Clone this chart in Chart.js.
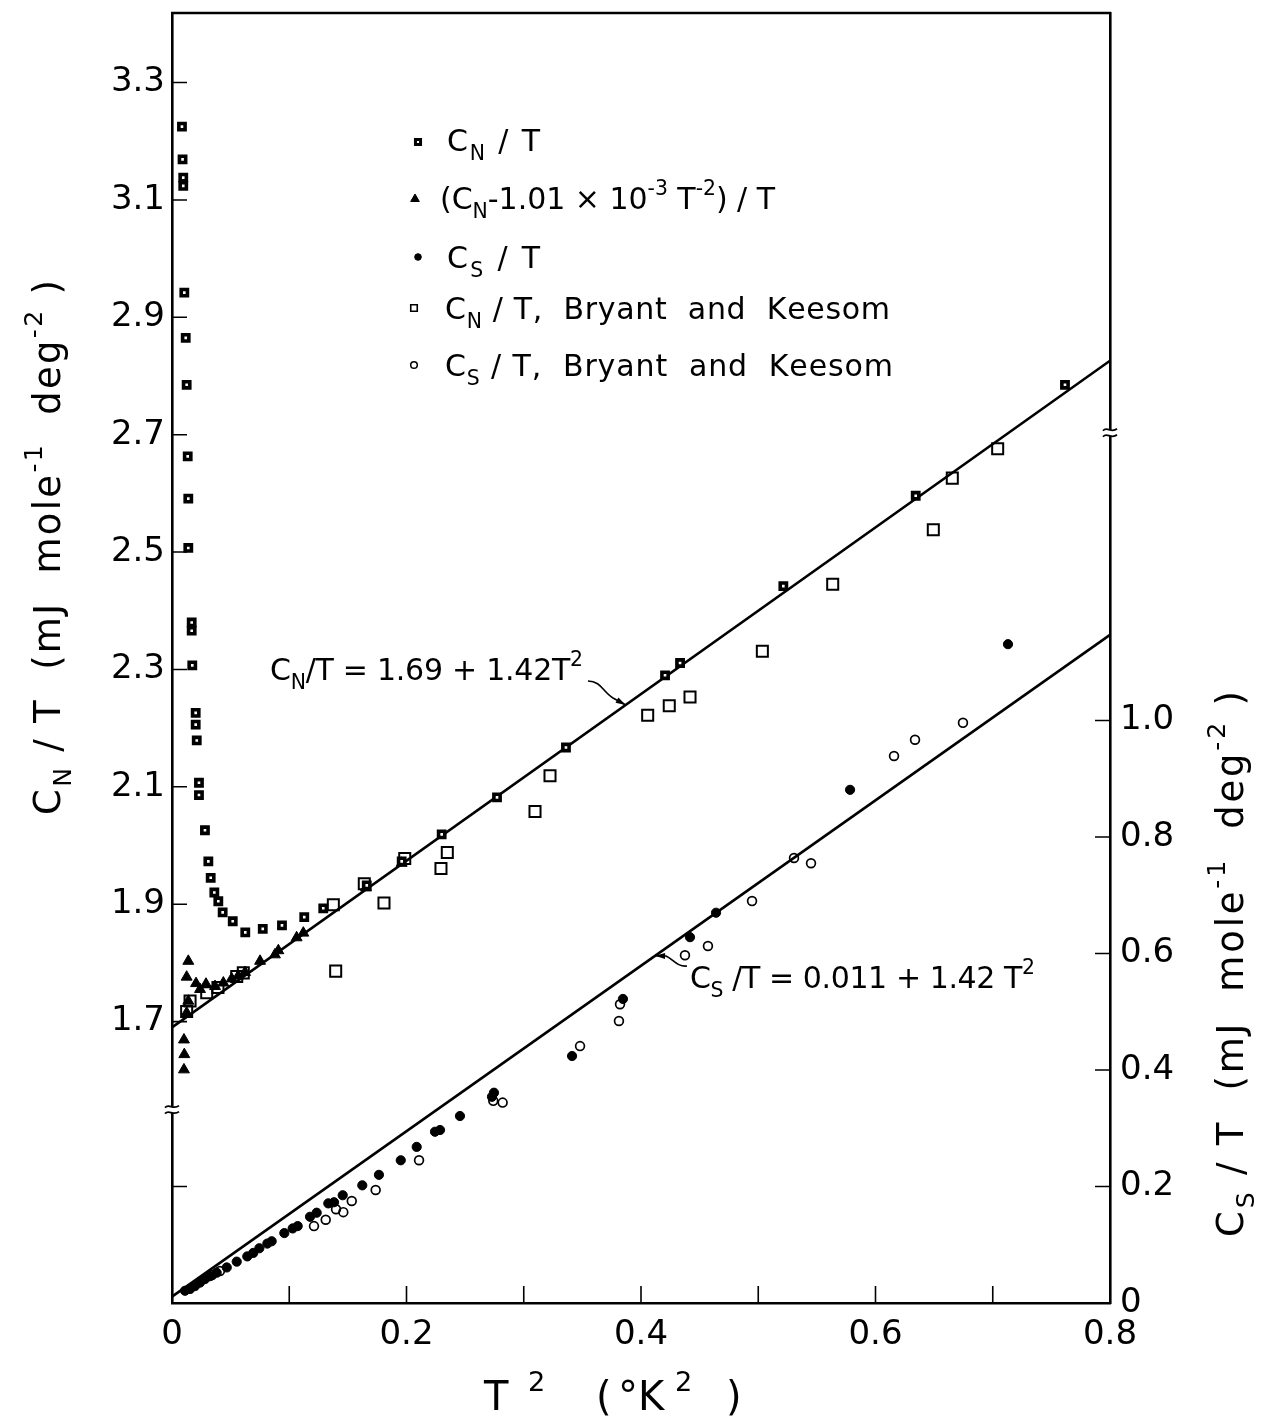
<!DOCTYPE html>
<html>
<head>
<meta charset="utf-8">
<script src="https://cdn.jsdelivr.net/npm/chart.js@4/dist/chart.umd.min.js"></script>
<style>
  html, body { margin: 0; padding: 0; background: #fff; }
  #wrap { width: 1267px; height: 1424px; position: relative; }
</style>
</head>
<body>
<div id="wrap"><canvas id="c" width="1267" height="1424"></canvas></div>
<script>
// ---- measured points: T^2 (K^2) and C/T (mJ mole^-1 deg^-2) ----
const cnT2 = [0.0085, 0.0090, 0.0096, 0.0096, 0.0105, 0.0117, 0.0125, 0.0134, 0.0139, 0.0139,
  0.0168, 0.0168, 0.0173, 0.0202, 0.0202, 0.0211, 0.0230, 0.0230, 0.0281, 0.0310,
  0.0330, 0.0361, 0.0395, 0.0432, 0.0518, 0.0625, 0.0774, 0.0938, 0.1128, 0.1290,
  0.1661, 0.1959, 0.2300, 0.2772, 0.3360, 0.4205, 0.4333, 0.5214, 0.6343, 0.7616];
const cnVal = [3.225, 3.169, 3.138, 3.124, 2.942, 2.865, 2.785, 2.663, 2.591, 2.507,
  2.380, 2.366, 2.307, 2.226, 2.206, 2.179, 2.107, 2.086, 2.026, 1.973,
  1.945, 1.920, 1.905, 1.886, 1.871, 1.852, 1.858, 1.864, 1.878, 1.893,
  1.932, 1.973, 2.019, 2.082, 2.167, 2.290, 2.311, 2.442, 2.596, 2.785];

const cnCorrT2 = [0.0102, 0.0105, 0.0102, 0.0125, 0.0139, 0.0125, 0.0139, 0.0205, 0.0239, 0.0290,
  0.0367, 0.0438, 0.0509, 0.0565, 0.0623, 0.0751, 0.0878, 0.0907, 0.1063, 0.1120, 0.1655, 0.1959];
const cnCorrVal = [1.618, 1.644, 1.669, 1.715, 1.735, 1.776, 1.803, 1.765, 1.755, 1.764,
  1.760, 1.766, 1.773, 1.778, 1.784, 1.803, 1.814, 1.821, 1.843, 1.851, 1.928, 1.970];

const csT2 = [0.0111, 0.0154, 0.0196, 0.0239, 0.0281, 0.0324, 0.0381, 0.0467, 0.0552, 0.0642,
  0.0693, 0.0745, 0.0813, 0.0850, 0.0958, 0.1029, 0.1072, 0.1177, 0.1234, 0.1333,
  0.1382, 0.1456, 0.1623, 0.1765, 0.1951, 0.2087, 0.2243, 0.2286, 0.2456, 0.2729,
  0.2746, 0.3412, 0.3846, 0.4418, 0.4640, 0.5783, 0.7130];
const csVal = [0.021, 0.024, 0.029, 0.035, 0.041, 0.046, 0.052, 0.061, 0.071, 0.080,
  0.086, 0.094, 0.102, 0.106, 0.120, 0.128, 0.132, 0.148, 0.155, 0.171,
  0.173, 0.185, 0.202, 0.220, 0.245, 0.268, 0.294, 0.297, 0.321, 0.354,
  0.361, 0.424, 0.522, 0.628, 0.670, 0.881, 1.131];

const bkCnT2 = [0.0125, 0.0154, 0.0296, 0.0392, 0.0552, 0.0608, 0.1376, 0.1396, 0.1640, 0.1808,
  0.1985, 0.2294, 0.2348, 0.3096, 0.3224, 0.4057, 0.4241, 0.4418, 0.5035, 0.5635,
  0.6493, 0.6655, 0.7042];
const bkCnVal = [1.717, 1.735, 1.749, 1.758, 1.777, 1.783, 1.899, 1.786, 1.935, 1.902,
  1.978, 1.961, 1.988, 2.058, 2.119, 2.222, 2.238, 2.253, 2.331, 2.445,
  2.538, 2.626, 2.676];

const bkCsT2 = [0.0341, 0.0409, 0.1211, 0.1311, 0.1399, 0.1461, 0.1533, 0.1737, 0.2107, 0.2740,
  0.2820, 0.3480, 0.3821, 0.3812, 0.4375, 0.4571, 0.4947, 0.5305, 0.5450, 0.6158,
  0.6337, 0.6746];
const bkCsVal = [0.048, 0.055, 0.132, 0.143, 0.161, 0.156, 0.175, 0.194, 0.245, 0.347,
  0.344, 0.441, 0.513, 0.484, 0.597, 0.613, 0.690, 0.764, 0.755, 0.939,
  0.967, 0.996];

// fitted straight lines, C/T = a + b T^2
const fitCn = { a: 1.69, b: 1.42 };
const fitCs = { a: 0.011, b: 1.42 };
const fitT2 = [0, 0.8];

// axes
const xTickValues = [0, 0.2, 0.4, 0.6, 0.8];
const xTickLabels = ['0', '0.2', '0.4', '0.6', '0.8'];
const xMinorValues = [0.1, 0.3, 0.5, 0.7];
const leftTickValues = [1.7, 1.9, 2.1, 2.3, 2.5, 2.7, 2.9, 3.1, 3.3];
const leftTickLabels = ['1.7', '1.9', '2.1', '2.3', '2.5', '2.7', '2.9', '3.1', '3.3'];
const rightTickValues = [0, 0.2, 0.4, 0.6, 0.8, 1.0];
const rightTickLabels = ['0', '0.2', '0.4', '0.6', '0.8', '1.0'];
const leftRange = [1.2205, 3.4185];
const rightRange = [0, 2.2146];
const leftBreakAt = 1.55;    // axis break on the C_N/T side
const rightBreakAt = 1.494;  // axis break on the C_S/T side

const FONT = '"DejaVu Sans", "Liberation Sans", sans-serif';
const pts = (xs, ys) => xs.map((x, i) => ({ x, y: ys[i] }));
const line = (f) => fitT2.map(x => ({ x, y: f.a + f.b * x }));

// ---- rich text: [text, kind] with kind 0 normal, 1 subscript, 2 superscript ----
function richMeasure(ctx, segs, size) {
  let w = 0, n = 0;
  for (const [t, k] of segs) {
    ctx.font = `${k ? size * 0.68 : size}px ${FONT}`;
    for (const ch of t) { w += ctx.measureText(ch).width; n++; }
  }
  return { w, n };
}
function drawRich(ctx, segs, x, y, size, target) {
  const m = richMeasure(ctx, segs, size);
  const sp = target ? (target - m.w) / (m.n - 1) : 0;
  let cx = x;
  ctx.textBaseline = 'alphabetic';
  ctx.textAlign = 'left';
  for (const [t, k] of segs) {
    const fs = k ? size * 0.68 : size;
    ctx.font = `${fs}px ${FONT}`;
    const dy = k === 1 ? size * 0.3 : (k === 2 ? -size * 0.48 : 0);
    for (const ch of t) {
      ctx.fillText(ch, cx, y + dy);
      cx += ctx.measureText(ch).width + sp;
    }
  }
}

function marker(ctx, style, r, filled, bw, x, y) {
  ctx.save();
  ctx.fillStyle = filled ? '#000' : 'rgba(0,0,0,0)';
  ctx.strokeStyle = '#000';
  ctx.lineWidth = bw;
  Chart.helpers.drawPoint(ctx, { pointStyle: style, radius: r, rotation: 0, borderWidth: bw }, x, y);
  ctx.restore();
}

function breakMark(ctx, x, y) {
  ctx.save();
  ctx.fillStyle = '#fff';
  ctx.fillRect(x - 3, y - 3, 6, 6);
  ctx.strokeStyle = '#000';
  ctx.lineWidth = 1.8;
  for (const dy of [-3, 3]) {
    ctx.beginPath();
    ctx.moveTo(x - 7, y + dy + 1);
    ctx.bezierCurveTo(x - 3, y + dy - 4, x + 1, y + dy + 4, x + 7, y + dy - 1);
    ctx.stroke();
  }
  ctx.restore();
}

function leader(ctx, pathPts, tip) {
  ctx.save();
  ctx.strokeStyle = '#000';
  ctx.fillStyle = '#000';
  ctx.lineWidth = 1.6;
  const [s, c1, c2, m] = pathPts;
  ctx.beginPath();
  ctx.moveTo(s[0], s[1]);
  ctx.bezierCurveTo(c1[0], c1[1], c2[0], c2[1], m[0], m[1]);
  ctx.lineTo(tip.x, tip.y);
  ctx.stroke();
  const ang = Math.atan2(tip.y - m[1], tip.x - m[0]);
  ctx.beginPath();
  ctx.moveTo(tip.x, tip.y);
  ctx.lineTo(tip.x - 10 * Math.cos(ang) + 3 * Math.sin(ang), tip.y - 10 * Math.sin(ang) - 3 * Math.cos(ang));
  ctx.lineTo(tip.x - 10 * Math.cos(ang) - 3 * Math.sin(ang), tip.y - 10 * Math.sin(ang) + 3 * Math.cos(ang));
  ctx.closePath();
  ctx.fill();
  ctx.restore();
}

// places single text pieces at given left edges along one baseline
function drawPieces(ctx, pieces, y, size) {
  ctx.textBaseline = 'alphabetic';
  ctx.textAlign = 'left';
  for (const [t, k, x] of pieces) {
    ctx.font = `${k ? size * 0.68 : size}px ${FONT}`;
    ctx.fillText(t, x, y + (k === 2 ? -size * 0.48 : 0));
  }
}

const decorations = {
  id: 'decorations',
  afterDraw(chart) {
    const ctx = chart.ctx;
    const { left, right, top, bottom } = chart.chartArea;
    const xs = chart.scales.x, yl = chart.scales.y, yr = chart.scales.y2;
    ctx.save();
    ctx.strokeStyle = '#000';
    ctx.fillStyle = '#000';
    // top frame line
    ctx.lineWidth = 2.6;
    ctx.beginPath(); ctx.moveTo(left - 1, top); ctx.lineTo(right + 1, top); ctx.stroke();
    // inward tick marks
    ctx.lineWidth = 1.6;
    ctx.beginPath();
    for (const v of leftTickValues) { const p = yl.getPixelForValue(v); ctx.moveTo(left, p); ctx.lineTo(left + 15, p); }
    { const p = yr.getPixelForValue(0.2); ctx.moveTo(left, p); ctx.lineTo(left + 15, p); }
    for (const v of rightTickValues) { const p = yr.getPixelForValue(v); ctx.moveTo(right, p); ctx.lineTo(right - 15, p); }
    for (const v of xMinorValues.concat(xTickValues.slice(1, -1))) { const p = xs.getPixelForValue(v); ctx.moveTo(p, bottom); ctx.lineTo(p, bottom - 17); }
    ctx.stroke();
    // axis breaks
    breakMark(ctx, left, yl.getPixelForValue(leftBreakAt));
    breakMark(ctx, right, yr.getPixelForValue(rightBreakAt));

    // legend
    const lg = [
      { st: 'rect', r: 3.6, f: false, bw: 3, mx: 418, my: 142,
        segs: [['C', 0], ['N', 1], [' / T', 0]], x: 447, y: 151, w: 93 },
      { st: 'triangle', r: 5, f: true, bw: 1, mx: 415, my: 199,
        segs: [['(C', 0], ['N', 1], ['-1.01 × 10', 0], ['-3', 2], [' T', 0], ['-2', 2], [') / T', 0]], x: 440, y: 209, w: 335 },
      { st: 'circle', r: 3.3, f: true, bw: 1, mx: 418, my: 257,
        segs: [['C', 0], ['S', 1], [' / T', 0]], x: 447, y: 268, w: 93 },
      { st: 'rect', r: 4.6, f: false, bw: 1.6, mx: 414, my: 308,
        segs: [['C', 0], ['N', 1], [' / T,  Bryant  and  Keesom', 0]], x: 445, y: 319, w: 445 },
      { st: 'circle', r: 3.3, f: false, bw: 1.5, mx: 414, my: 365,
        segs: [['C', 0], ['S', 1], [' / T,  Bryant  and  Keesom', 0]], x: 445, y: 376, w: 448 }
    ];
    for (const e of lg) {
      marker(ctx, e.st, e.r, e.f, e.bw, e.mx, e.my);
      ctx.fillStyle = '#000';
      drawRich(ctx, e.segs, e.x, e.y, 30, e.w);
    }

    // fit line labels with leaders
    ctx.fillStyle = '#000';
    drawRich(ctx, [['C', 0], ['N', 1], ['/T = 1.69 + 1.42T', 0], ['2', 2]], 270, 680, 30, 313);
    const tipCnX = 0.387;
    leader(ctx, [[588, 681], [601, 681], [603, 692], [613, 698]],
      { x: xs.getPixelForValue(tipCnX), y: yl.getPixelForValue(fitCn.a + fitCn.b * tipCnX) });
    ctx.fillStyle = '#000';
    drawRich(ctx, [['C', 0], ['S', 1], [' /T = 0.011 + 1.42 T', 0], ['2', 2]], 690, 988, 30, 345);
    const tipCsX = 0.412;
    leader(ctx, [[687, 966], [677, 967], [673, 959], [666, 956]],
      { x: xs.getPixelForValue(tipCsX), y: yr.getPixelForValue(fitCs.a + fitCs.b * tipCsX) });

    // axis titles
    ctx.fillStyle = '#000';
    ctx.save();
    ctx.translate(60, 815); ctx.rotate(-Math.PI / 2);
    drawRich(ctx, [['C', 0], ['N', 1], [' / T  (mJ  mole', 0], ['-1', 2], ['  deg', 0], ['-2', 2], [' )', 0]], 0, 0, 37, 535);
    ctx.restore();
    ctx.save();
    ctx.translate(1243, 1237); ctx.rotate(-Math.PI / 2);
    drawRich(ctx, [['C', 0], ['S', 1], [' / T  (mJ  mole', 0], ['-1', 2], ['  deg', 0], ['-2', 2], [' )', 0]], 0, 0, 37, 546);
    ctx.restore();
    drawPieces(ctx, [['T', 0, 484], ['2', 2, 528], ['(', 0, 596], ['°', 0, 618], ['K', 0, 638], ['2', 2, 675], [')', 0, 726]], 1410, 40);
    ctx.restore();
  }
};

const tickFont = { family: FONT, size: 34 };
const fixTicks = (vals) => (scale) => { scale.ticks = vals.map(v => ({ value: v })); };
const fitV = (w) => (s) => { s.width = w; s.paddingTop = 0; s.paddingBottom = 0; };

new Chart(document.getElementById('c'), {
  type: 'scatter',
  data: {
    datasets: [
      { label: 'C_N/T', data: pts(cnT2, cnVal), yAxisID: 'y',
        pointStyle: 'rect', pointRadius: 4.4, pointBorderWidth: 3.6,
        pointBackgroundColor: '#fff', pointBorderColor: '#000' },
      { label: '(C_N - 1.01e-3 T^-2)/T', data: pts(cnCorrT2, cnCorrVal), yAxisID: 'y',
        pointStyle: 'triangle', pointRadius: 6.3, pointBorderWidth: 1,
        pointBackgroundColor: '#000', pointBorderColor: '#000' },
      { label: 'C_S/T', data: pts(csT2, csVal), yAxisID: 'y2',
        pointStyle: 'circle', pointRadius: 4.6, pointBorderWidth: 1,
        pointBackgroundColor: '#000', pointBorderColor: '#000' },
      { label: 'C_N/T, Bryant and Keesom', data: pts(bkCnT2, bkCnVal), yAxisID: 'y',
        pointStyle: 'rect', pointRadius: 7.8, pointBorderWidth: 2,
        pointBackgroundColor: 'rgba(0,0,0,0)', pointBorderColor: '#000' },
      { label: 'C_S/T, Bryant and Keesom', data: pts(bkCsT2, bkCsVal), yAxisID: 'y2',
        pointStyle: 'circle', pointRadius: 4.4, pointBorderWidth: 1.7,
        pointBackgroundColor: 'rgba(0,0,0,0)', pointBorderColor: '#000' },
      { label: 'fit C_N/T', data: line(fitCn), yAxisID: 'y', showLine: true,
        pointRadius: 0, borderColor: '#000', borderWidth: 2.6 },
      { label: 'fit C_S/T', data: line(fitCs), yAxisID: 'y2', showLine: true,
        pointRadius: 0, borderColor: '#000', borderWidth: 2.6 }
    ]
  },
  options: {
    responsive: false,
    animation: false,
    devicePixelRatio: 1,
    layout: { padding: { top: 13, left: 0, right: 0, bottom: 0 } },
    plugins: { legend: { display: false }, tooltip: { enabled: false } },
    scales: {
      x: {
        type: 'linear', position: 'bottom', min: 0, max: 0.8,
        afterBuildTicks: fixTicks(xTickValues),
        afterFit: (s) => { s.height = 121; s.paddingLeft = 0; s.paddingRight = 0; },
        grid: { display: false, drawTicks: false },
        border: { display: true, color: '#000', width: 2.6 },
        ticks: { color: '#000', font: tickFont, padding: 12, maxRotation: 0,
          callback: (v, i) => xTickLabels[i] }
      },
      y: {
        type: 'linear', position: 'left', min: leftRange[0], max: leftRange[1],
        afterBuildTicks: fixTicks(leftTickValues),
        afterFit: fitV(172),
        grid: { display: false, drawTicks: false },
        border: { display: true, color: '#000', width: 2.6 },
        ticks: { color: '#000', font: tickFont, padding: 7,
          callback: (v, i) => leftTickLabels[i] }
      },
      y2: {
        type: 'linear', position: 'right', min: rightRange[0], max: rightRange[1],
        afterBuildTicks: fixTicks(rightTickValues),
        afterFit: fitV(157),
        grid: { display: false, drawTicks: false },
        border: { display: true, color: '#000', width: 2.6 },
        ticks: { color: '#000', font: tickFont, padding: 10,
          callback: (v, i) => rightTickLabels[i] }
      }
    }
  },
  plugins: [decorations]
});
</script>
</body>
</html>
